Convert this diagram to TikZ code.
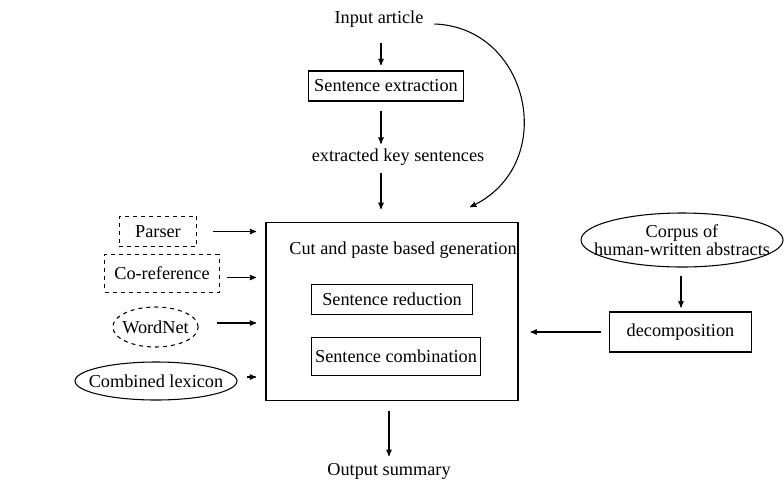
\documentclass[tikz,border=0pt]{standalone}
\usepackage{fontspec}
\setmainfont{Liberation Serif}
\usetikzlibrary{calc,arrows,shapes.geometric,positioning}
\tikzstyle{stage}=[draw,thick,rectangle,inner xsep=2pt,inner ysep=0pt,font=\fontsize{13.7}{15}\selectfont]
\tikzstyle{tool}=[draw,thick,dashed,rectangle,inner sep=0pt,font=\fontsize{13.7}{15}\selectfont]
\tikzstyle{res}=[draw,thick,ellipse,inner xsep=-20pt,inner ysep=-5pt,font=\fontsize{13.7}{15}\selectfont]
\tikzstyle{lbl}=[font=\fontsize{13.7}{15}\selectfont]

\begin{document}
\begin{tikzpicture}[x=0.75pt,y=-0.75pt,thick,>=stealth']
\useasboundingbox (0,0) rectangle (784,482);
\coordinate (ax) at (381, 0);
\draw (379, 19) node [lbl] (inp) {Input article};
\draw (386, 86) node [stage, minimum width=116pt, minimum height=22.5pt] (ext) {Sentence extraction};
\draw (398, 157) node [lbl] (keys) {extracted key sentences};
\draw [->, shorten <=8pt, shorten >=4pt] (inp.south -| ax) -- (ext.north -| ax);
\draw [->, shorten <=7pt] (ext.south -| ax) -- (keys.north -| ax);
\node [draw, thick, minimum width=189pt, minimum height=133pt] (gen) at (392, 311.5) {};
\draw (403, 250) node [lbl] (cut) {Cut and paste based generation};
\draw (392, 299.5) node [stage, minimum width=121pt, minimum height=23pt] (red) {Sentence reduction};
\draw (396, 356.5) node [stage, minimum width=127pt, minimum height=29pt] (comb) {Sentence combination};
\draw [->, shorten <=2pt, shorten >=10pt] (keys.south -| ax) -- (gen.north -| ax);
\draw [->] (inp.east) ++(6, 5) .. controls (530, 27) and (560, 165) .. (470, 207);
% tools on the left
\draw (158, 231.5) node [tool, minimum width=58pt, minimum height=23pt] (parser) {Parser};
\draw (162, 273.5) node [tool, minimum width=86pt, minimum height=28pt] (coref) {Co-reference};
\draw (155.5, 327) node [res, dashed, minimum width=64pt, minimum height=30pt] (wn) {WordNet};
\draw (156, 381) node [res, minimum width=121.5pt, minimum height=28.5pt] (lex) {Combined lexicon};
\draw [->, shorten <=12pt, shorten >=7pt] (parser.east) -- (parser.east -| gen.west);
\draw [->, shorten <=5pt, shorten >=7pt] (coref.east) ++(0, 4) -- ($(coref.east -| gen.west) + (0, 4)$);
\draw [->, shorten <=14pt, shorten >=7pt] (wn.east) ++(0, -4) -- ($(wn.east -| gen.west) + (0, -4)$);
\draw [->, shorten <=7pt, shorten >=7pt] (lex.east) ++(0, -4) -- ($(lex.east -| gen.west) + (0, -4)$);
% corpus on the right
\draw (682, 240) node [res, minimum width=151.5pt, minimum height=40.5pt, align=center, font=\fontsize{13.7}{11.5}\selectfont] (corp) {Corpus of\\human-written abstracts};
\draw (680.5, 332) node [stage, minimum width=106pt, minimum height=30pt] (dec) {decomposition};
\draw [->, shorten <=6pt, shorten >=3pt] (corp.south -| 681, 0) -- (dec.north -| 681, 0);
\draw [->, shorten <=6pt, shorten >=9pt] (dec.west) -- (dec.west -| gen.east);
% output
\draw [->, shorten <=8pt] (gen.south -| 389, 0) -- (389, 456);
\draw (389, 471) node [lbl] (out) {Output summary};
\end{tikzpicture}
\end{document}
